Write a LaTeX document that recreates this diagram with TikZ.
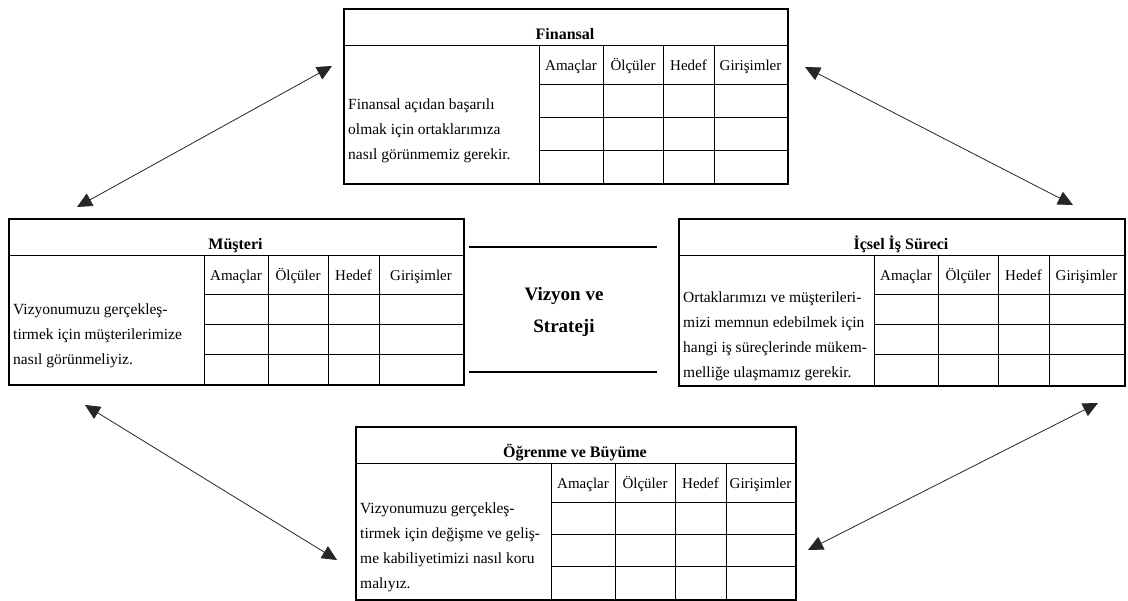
\documentclass[tikz,border=0pt]{standalone}
\usepackage{fontspec}
\setmainfont{Liberation Serif}
\usetikzlibrary{arrows.meta}

\begin{document}
\begin{tikzpicture}[
			x=1pt, y=-1pt,
			boxframe/.style={draw, rectangle, line width=1.8pt, anchor=north west, inner sep=0pt},
			gridline/.style={line width=0.9pt},
			boxtitle/.style={font=\fontsize{16}{19}\selectfont\bfseries, anchor=base, inner sep=0pt},
			boxhead/.style={font=\fontsize{15}{18}\selectfont, anchor=base, inner sep=0pt},
			boxbody/.style={font=\fontsize{15.5}{25}\selectfont, align=left, anchor=west, inner sep=0pt},
			midtext/.style={font=\fontsize{19}{32}\selectfont\bfseries, align=center},
			midline/.style={line width=2.2pt},
			arrow/.style={{Triangle[length=15pt,width=14pt]}-{Triangle[length=15pt,width=14pt]}, line width=0.8pt, black!85}
			]
			\useasboundingbox (0,0) rectangle (1128,601);
			\fill[white] (0,0) rectangle (1128,601);
			
			% Perspective boxes
			\foreach \nm/\x/\y/\w/\h/\ttl/\txt in {
				fin/343/8/444/175/{Finansal}/{Finansal açıdan başarılı\\olmak için ortaklarımıza\\nasıl görünmemiz gerekir.},
				mus/8/218/455/166/{Müşteri}/{Vizyonumuzu gerçekleş-\\tirmek için müşterilerimize\\nasıl görünmeliyiz.},
				ics/678/218/446/167/{İçsel İş Süreci}/{Ortaklarımızı ve müşterileri-\\mizi memnun edebilmek için\\hangi iş süreçlerinde mükem-\\melliğe ulaşmamız gerekir.},
				ogr/355/426/440/173/{Öğrenme ve Büyüme}/{Vizyonumuzu gerçekleş-\\tirmek için değişme ve geliş-\\me kabiliyetimizi nasıl koru\\malıyız.}}
			{
				\node[boxframe, minimum width=\w pt, minimum height=\h pt] (\nm) at (\x,\y) {};
				\draw[gridline] (\x,\y+37) -- ++(\w,0);
				\foreach \cx in {196,260,320,371}
					\draw[gridline] (\x+\cx,\y+37) -- (\x+\cx,\y+\h);
				\foreach \r in {0,1,2}
					\draw[gridline] ({\x+196},{\y+76+\r*(\h-76)/3}) -- ({\x+\w},{\y+76+\r*(\h-76)/3});
				\node[boxtitle] (\nm-title) at ({\x+\w/2},\y+32) {\ttl};
				\node[boxhead] (\nm-h1) at (\x+228,\y+63) {Amaçlar};
				\node[boxhead] (\nm-h2) at (\x+290,\y+63) {Ölçüler};
				\node[boxhead] (\nm-h3) at (\x+345.5,\y+63) {Hedef};
				\node[boxhead] (\nm-h4) at ({\x+(371+\w)/2},\y+63) {Girişimler};
				\node[boxbody] (\nm-text) at (\x+5,{\y+(76+\h)/2-3}) {\txt};
			}
			
			% Center
			\node[midtext] (vizyon) at (564,312) {Vizyon ve\\Strateji};
			\draw[midline] (469,247) -- (657,247);
			\draw[midline] (469,372) -- (657,372);
			
			% Arrow ends
			\coordinate (mus-up) at (77,207);
			\coordinate (fin-left) at (332,66);
			\coordinate (fin-right) at (805,67);
			\coordinate (ics-up) at (1073,205);
			\coordinate (mus-down) at (85,405);
			\coordinate (ogr-left) at (337,560);
			\coordinate (ogr-right) at (808,550);
			\coordinate (ics-down) at (1098,403);
			
			% Connections
			\draw [arrow] (mus-up) -- (fin-left);
			\draw [arrow] (fin-right) -- (ics-up);
			\draw [arrow] (mus-down) -- (ogr-left);
			\draw [arrow] (ogr-right) -- (ics-down);
			
		\end{tikzpicture}
\end{document}
